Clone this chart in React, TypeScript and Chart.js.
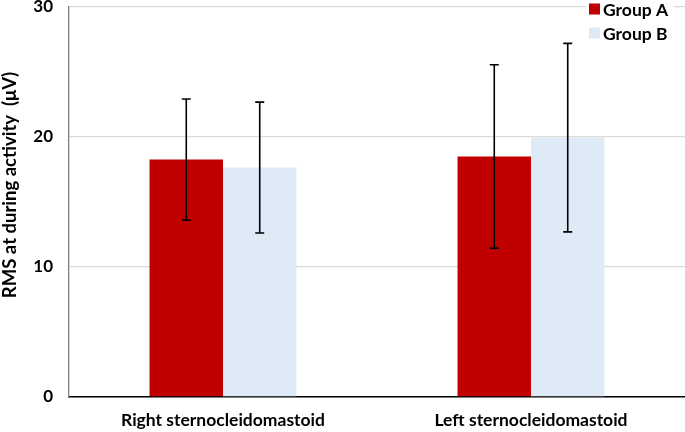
import React, { useEffect, useRef } from "react";
import { Chart, registerables } from "chart.js";

Chart.register(...registerables);

const categories = ["Right sternocleidomastoid", "Left sternocleidomastoid"];
const seriesNames = ["Group A", "Group B"];
const groupAValues = [18.26, 18.5];
const groupAErrors = [4.66, 7.05];
const groupBValues = [17.65, 19.95];
const groupBErrors = [5.03, 7.25];
const yTicks = [0, 10, 20, 30];
const yTitle = "RMS at during activity  (\u03bcV)";

const colorA = "#C00000";
const colorB = "#DEEBF7";
const FONT = "Lato";

export default function App() {
  const ref = useRef<HTMLCanvasElement | null>(null);

  useEffect(() => {
    document.body.style.margin = "0";
    const canvas = ref.current;
    if (!canvas) return;

    const errorPlugin = {
      id: "errorBars",
      afterDatasetsDraw(chart: any) {
        const ctx = chart.ctx;
        const y = chart.scales.y;
        const errs = [groupAErrors, groupBErrors];
        ctx.save();
        ctx.strokeStyle = "#000";
        ctx.lineWidth = 1.6;
        chart.data.datasets.forEach((ds: any, di: number) => {
          const meta = chart.getDatasetMeta(di);
          meta.data.forEach((bar: any, i: number) => {
            const v = ds.data[i];
            const e = errs[di][i];
            const x = bar.x;
            const yt = y.getPixelForValue(v + e);
            const yb = y.getPixelForValue(v - e);
            ctx.beginPath();
            ctx.moveTo(x, yt);
            ctx.lineTo(x, yb);
            ctx.moveTo(x - 4.5, yt);
            ctx.lineTo(x + 4.5, yt);
            ctx.moveTo(x - 4.5, yb);
            ctx.lineTo(x + 4.5, yb);
            ctx.stroke();
          });
        });
        ctx.restore();
      },
    };

    const decorPlugin = {
      id: "decor",
      afterDraw(chart: any) {
        const ctx = chart.ctx;
        ctx.save();
        // y title
        ctx.translate(10.5, 185);
        ctx.rotate(-Math.PI / 2);
        ctx.fillStyle = "#000";
        ctx.font = `bold 18.5px ${FONT}`;
        ctx.textAlign = "center";
        ctx.textBaseline = "middle";
        ctx.fillText(yTitle, 0, 0);
        ctx.restore();

        // legend
        ctx.save();
        ctx.fillStyle = "#fff";
        ctx.fillRect(586, 0, 88, 44);
        const colors = [colorA, colorB];
        const ys = [9, 33];
        ctx.font = `bold 17.5px ${FONT}`;
        ctx.textAlign = "left";
        ctx.textBaseline = "middle";
        seriesNames.forEach((name, i) => {
          ctx.fillStyle = colors[i];
          ctx.fillRect(589, ys[i] - 5.5, 11, 11);
          ctx.fillStyle = "#000";
          ctx.fillText(name, 603, ys[i] + 1);
        });
        ctx.restore();
      },
    };

    const chart = new Chart(canvas, {
      type: "bar",
      data: {
        labels: categories,
        datasets: [
          {
            label: seriesNames[0],
            data: groupAValues,
            backgroundColor: colorA,
            barPercentage: 1,
            categoryPercentage: 0.477,
          },
          {
            label: seriesNames[1],
            data: groupBValues,
            backgroundColor: colorB,
            barPercentage: 1,
            categoryPercentage: 0.477,
          },
        ],
      },
      options: {
        animation: false,
        responsive: true,
        maintainAspectRatio: false,
        layout: { padding: { left: 0, right: 0, top: 0, bottom: 0 } },
        plugins: {
          legend: { display: false },
          tooltip: { enabled: false },
        },
        scales: {
          x: {
            grid: { display: false, drawTicks: false },
            border: { display: true, color: "#000", width: 1.5 },
            ticks: {
              color: "#000",
              padding: 13,
              font: { family: FONT, size: 17.5, weight: "bold" },
            },
            afterFit: (s: any) => {
              s.height = 35;
            },
          },
          y: {
            min: 0,
            max: 30,
            afterBuildTicks: (s: any) => {
              s.ticks = yTicks.map((v) => ({ value: v }));
            },
            grid: {
              color: "#D9D9D9",
              lineWidth: 1.3,
              drawTicks: true,
              tickLength: 16,
              tickColor: "rgba(0,0,0,0)",
            },
            border: { display: true, color: "#808080", width: 1.3 },
            ticks: {
              color: "#000",
              padding: 0,
              font: { family: FONT, size: 17, weight: "bold", lineHeight: 0.82 },
            },
            afterFit: (s: any) => {
              s.width = 69;
            },
          },
        },
      },
      plugins: [errorPlugin, decorPlugin],
    });

    return () => chart.destroy();
  }, []);

  return (
    <div style={{ position: "relative", width: 685, height: 432 }}>
      <canvas ref={ref} />
    </div>
  );
}
